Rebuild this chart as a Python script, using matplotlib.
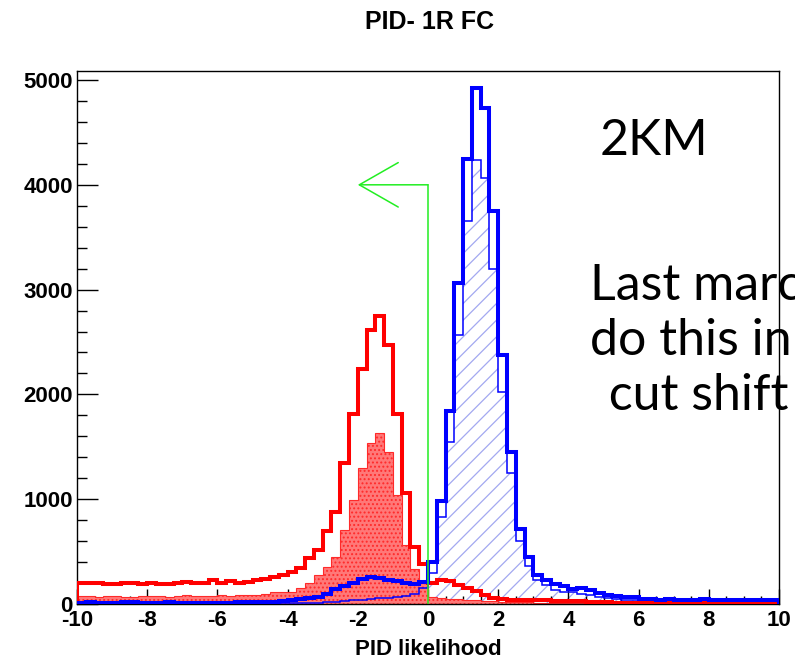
import numpy as np
import matplotlib
matplotlib.use('Agg')
import matplotlib.pyplot as plt

plt.rcParams['axes.unicode_minus'] = False
plt.rcParams['font.family'] = ['Liberation Sans', 'DejaVu Sans']
plt.rcParams['hatch.linewidth'] = 0.9

# 80 bins of 0.25 from -10 to 10
edges = np.linspace(-10, 10, 81)

# e-like total (thick red outline)
red_total = [205, 205, 197, 190, 190, 197, 200, 190, 197, 193, 190, 197, 213, 197, 200, 225, 200, 218, 200, 213, 225, 240,
             261, 277, 308, 340, 436, 515, 700, 881, 1342, 1810, 2242, 2614, 2748, 2471, 1810, 1055, 547, 380,
             200, 230, 215, 185, 150, 120, 90, 60, 45, 42, 40, 40, 38, 35, 30, 28, 25, 25, 22, 20,
             15, 12, 10, 10, 8, 8, 6, 6, 5, 5, 5, 5, 4, 4, 4, 4, 3, 3, 3, 3]

# e-like subset (red dotted fill)
red_fill = [75, 80, 70, 72, 78, 70, 68, 75, 80, 72, 70, 75, 85, 78, 72, 80, 85, 78, 82, 88, 90, 100,
            110, 118, 118, 150, 197, 277, 356, 451, 706, 992, 1295, 1540, 1630, 1453, 1040, 560, 330, 200,
            65, 60, 50, 45, 40, 35, 30, 25, 22, 20, 18, 15, 12, 10, 8, 7, 6, 5, 5, 4,
            3, 3, 3, 3, 3, 3, 3, 3, 3, 3, 3, 3, 3, 3, 3, 3, 3, 3, 3, 3]

# mu-like total (thick blue outline)
blue_total = [12, 15, 10, 8, 12, 15, 18, 12, 10, 12, 15, 10, 12, 8, 10, 12, 10, 12, 15, 15, 18, 20,
              20, 25, 35, 45, 55, 70, 100, 140, 175, 205, 235, 255, 245, 230, 215, 200, 190, 210,
              400, 985, 1840, 3060, 4245, 4920, 4730, 3750, 2375, 1455,
              720, 450, 280, 230, 190, 170, 145, 150, 134, 102, 87, 80, 70, 65,
              50, 45, 40, 45, 42, 38, 40, 45, 40, 38, 40, 42, 40, 38, 40, 40]

# mu-like subset (thin blue, hatched)
blue_sub = [2, 2, 2, 2, 2, 2, 2, 2, 2, 2, 2, 2, 2, 2, 2, 2, 2, 2, 2, 2,
            3, 4, 5, 6, 7, 9, 11, 14, 18, 22,
            28, 35, 42, 48, 55, 62, 70, 80, 92, 150,
            300, 833, 1550, 2570, 3650, 4235, 4065, 3195, 2025, 1250,
            600, 360, 230, 180, 130, 118, 110, 95, 87, 70, 55, 48, 42, 40,
            36, 35, 35, 36, 35, 34, 35, 36, 35, 34, 35, 35, 34, 35, 35, 35]

# PID cut
cut_x = 0.0
cut_y = 4000
arrow_len = 2.0

fig = plt.figure(figsize=(7.95, 6.64), dpi=100)
ax = fig.add_axes([77/795, 1-604/664, (779-77)/795, (604-71)/664])

ax.stairs(blue_sub, edges, fill=True, facecolor='none', edgecolor='#a3a8f0',
          hatch='//', linewidth=0, zorder=1)
ax.stairs(red_fill, edges, fill=True, facecolor='#ff7878', edgecolor='#ff2a2a',
          hatch='....', linewidth=0.8, zorder=2)
ax.stairs(red_total, edges, color='#ff0000', lw=2.9, zorder=3)
ax.stairs(blue_sub, edges, color='#0000ff', lw=1.1, zorder=4)
ax.stairs(blue_total, edges, color='#0000ff', lw=2.9, zorder=5)

# cut line and arrow
ax.plot([cut_x, cut_x], [0, cut_y], color='#22ee22', lw=1.1, zorder=6)
ax.annotate('', xy=(cut_x - arrow_len, cut_y), xytext=(cut_x, cut_y),
            arrowprops=dict(arrowstyle='->,head_length=2.8,head_width=1.6',
                            color='#22ee22', lw=1.1, shrinkA=0, shrinkB=0,
                            mutation_scale=10), zorder=6)

ax.set_xlim(-10, 10)
ax.set_ylim(0, 5086)
ax.set_xticks(np.arange(-10, 11, 2))
ax.set_xticks(np.arange(-10, 10.01, 0.5), minor=True)
ax.set_yticks(np.arange(0, 5001, 1000))
ax.set_yticks(np.arange(0, 5001, 200), minor=True)
ax.tick_params(axis='both', which='both', direction='in', top=False, right=False)
ax.tick_params(axis='x', which='major', length=11, width=1, pad=4)
ax.tick_params(axis='x', which='minor', length=5.5, width=1)
ax.tick_params(axis='y', which='major', length=15, width=1, pad=3)
ax.tick_params(axis='y', which='minor', length=7.5, width=1)
for lab in ax.get_xticklabels() + ax.get_yticklabels():
    lab.set_fontweight('bold')
    lab.set_fontsize(16)
for sp in ax.spines.values():
    sp.set_linewidth(1.0)

ax.set_xlabel('PID likelihood', fontsize=16, fontweight='bold', labelpad=6)
fig.text(430/795, 1-22/664, 'PID- 1R FC', ha='center', va='center', fontsize=18, fontweight='bold')

fig.text(600/795, 1-155/664, '2KM', fontsize=36, family='Lato', va='baseline')
fig.text(590/795, 1-300/664, 'Last marc', fontsize=36, family='Lato', va='baseline')
fig.text(590/795, 1-355/664, 'do this in', fontsize=36, family='Lato', va='baseline')
fig.text(596/795, 1-410/664, ' cut shift', fontsize=36, family='Lato', va='baseline')

fig.savefig('out.png', dpi=100)
